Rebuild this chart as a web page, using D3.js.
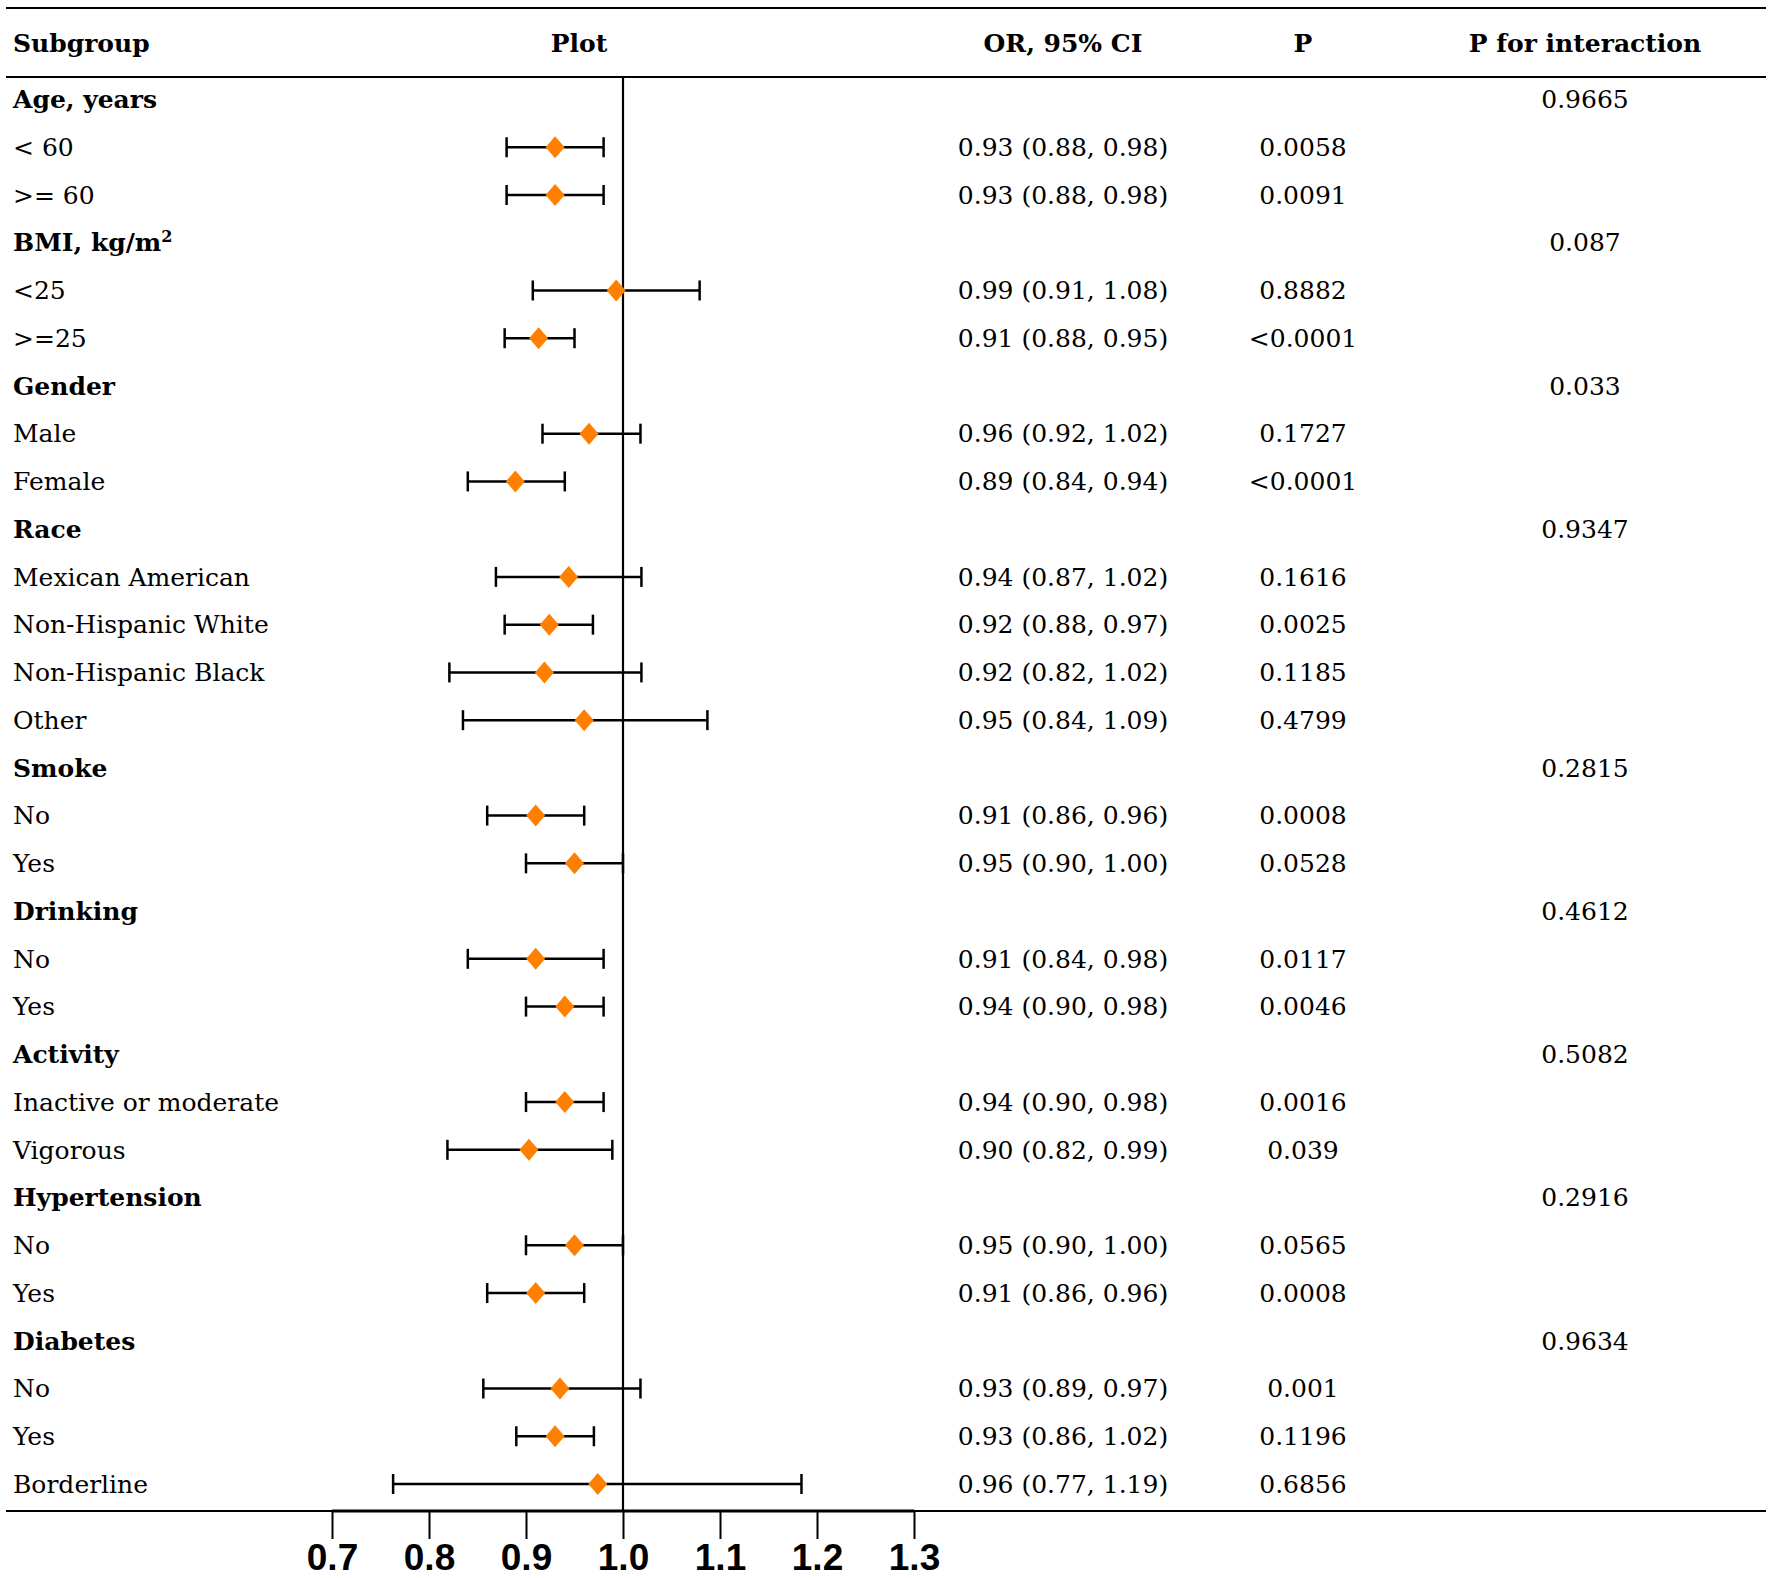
<!DOCTYPE html>
<html>
<head>
<meta charset="utf-8">
<script src="https://cdn.jsdelivr.net/npm/d3@7"></script>
<style>
  html, body { margin: 0; padding: 0; background: #fff; }
  #viz { width: 1772px; height: 1578px; }
</style>
</head>
<body>
<div id="viz"></div>
<script>
// rows of the table, top to bottom
const labels = ["Age, years", "< 60", ">= 60", "BMI, kg/m", "<25", ">=25", "Gender", "Male", "Female",
  "Race", "Mexican American", "Non-Hispanic White", "Non-Hispanic Black", "Other",
  "Smoke", "No", "Yes", "Drinking", "No", "Yes", "Activity", "Inactive or moderate", "Vigorous",
  "Hypertension", "No", "Yes", "Diabetes", "No", "Yes", "Borderline"];
const isHeader = [1,0,0,1,0,0,1,0,0,1,0,0,0,0,1,0,0,1,0,0,1,0,0,1,0,0,1,0,0,0];

const orText = ["", "0.93 (0.88, 0.98)", "0.93 (0.88, 0.98)", "", "0.99 (0.91, 1.08)", "0.91 (0.88, 0.95)",
  "", "0.96 (0.92, 1.02)", "0.89 (0.84, 0.94)", "", "0.94 (0.87, 1.02)", "0.92 (0.88, 0.97)",
  "0.92 (0.82, 1.02)", "0.95 (0.84, 1.09)", "", "0.91 (0.86, 0.96)", "0.95 (0.90, 1.00)",
  "", "0.91 (0.84, 0.98)", "0.94 (0.90, 0.98)", "", "0.94 (0.90, 0.98)", "0.90 (0.82, 0.99)",
  "", "0.95 (0.90, 1.00)", "0.91 (0.86, 0.96)", "", "0.93 (0.89, 0.97)", "0.93 (0.86, 1.02)",
  "0.96 (0.77, 1.19)"];
const pText = ["", "0.0058", "0.0091", "", "0.8882", "<0.0001", "", "0.1727", "<0.0001", "",
  "0.1616", "0.0025", "0.1185", "0.4799", "", "0.0008", "0.0528", "", "0.0117", "0.0046", "",
  "0.0016", "0.039", "", "0.0565", "0.0008", "", "0.001", "0.1196", "0.6856"];
const pInteraction = ["0.9665", "", "", "0.087", "", "", "0.033", "", "", "0.9347", "", "", "", "",
  "0.2815", "", "", "0.4612", "", "", "0.5082", "", "", "0.2916", "", "", "0.9634", "", "", ""];

// plotted estimates as drawn (null for header rows)
const est   = [null, 0.93, 0.93, null, 0.993, 0.913, null, 0.965, 0.889, null, 0.944, 0.924, 0.919, 0.96,
  null, 0.91, 0.95, null, 0.91, 0.94, null, 0.94, 0.903, null, 0.95, 0.91, null, 0.935, 0.93, 0.974];
const lower = [null, 0.88, 0.88, null, 0.907, 0.878, null, 0.917, 0.84, null, 0.869, 0.878, 0.821, 0.835,
  null, 0.86, 0.90, null, 0.84, 0.90, null, 0.90, 0.819, null, 0.90, 0.86, null, 0.856, 0.89, 0.763];
const upper = [null, 0.98, 0.98, null, 1.079, 0.95, null, 1.018, 0.94, null, 1.019, 0.969, 1.019, 1.087,
  null, 0.96, 1.00, null, 0.98, 0.98, null, 0.98, 0.989, null, 1.00, 0.96, null, 1.018, 0.97, 1.184];

const ticks = [0.7, 0.8, 0.9, 1.0, 1.1, 1.2, 1.3];
const headers = ["Subgroup", "Plot", "OR, 95% CI", "P", "P for interaction"];

const W = 1772, H = 1578;
const FONT = "'DejaVu Serif', 'Liberation Serif', serif";
const FS = "25px";
const ORANGE = "#ff8000";

const svg = d3.select("#viz").append("svg")
  .attr("width", W).attr("height", H);

const x = d3.scaleLinear().domain([0.7, 1.3]).range([332, 914]);
const y = d3.scaleLinear().domain([0, labels.length - 1]).range([99.5, 1484]);

const lineTop = 8, lineHead = 77, lineBottom = 1511;
const colOR = 1063, colP = 1303, colInt = 1585, colLabel = 13;

// horizontal rules
[lineTop, lineHead, lineBottom].forEach(yy => {
  svg.append("line").attr("x1", 6).attr("x2", 1766).attr("y1", yy).attr("y2", yy)
    .attr("stroke", "#000").attr("stroke-width", 2);
});

// header row
const headX = [colLabel, 579, colOR, colP, colInt];
svg.append("g").selectAll("text").data(headers).join("text")
  .attr("x", (d, i) => headX[i])
  .attr("y", 43).attr("dy", "0.35em")
  .attr("text-anchor", (d, i) => i === 0 ? "start" : "middle")
  .style("font-family", FONT).style("font-size", FS).style("font-weight", "bold")
  .text(d => d);

// reference line at 1
svg.append("line").attr("x1", x(1)).attr("x2", x(1)).attr("y1", lineHead).attr("y2", lineBottom)
  .attr("stroke", "#000").attr("stroke-width", 2.2);

// axis
const axis = svg.append("g").attr("transform", `translate(0,${lineBottom})`)
  .call(d3.axisBottom(x).tickValues(ticks).tickSize(28).tickFormat(d3.format(".1f")));
axis.select(".domain").attr("stroke-width", 3).attr("d", `M${x(0.7)},0H${x(1.3)}`);
axis.selectAll(".tick line").attr("stroke-width", 2);
axis.selectAll(".tick text").attr("y", 46).attr("dy", "0.35em")
  .style("font-family", "'Liberation Sans Narrow', 'Arial Narrow', 'Liberation Sans', sans-serif")
  .style("font-size", "37px").style("font-weight", "bold").attr("fill", "#000");

// rows
const rows = svg.append("g").selectAll("g").data(labels).join("g")
  .attr("transform", (d, i) => `translate(0,${y(i)})`);

rows.append("text")
  .attr("x", colLabel).attr("dy", "0.35em")
  .style("font-family", FONT).style("font-size", FS)
  .style("font-weight", (d, i) => isHeader[i] ? "bold" : "normal")
  .each(function (d) {
    const t = d3.select(this).text(d);
    if (d === "BMI, kg/m") {
      t.append("tspan").attr("dy", "-0.6em").style("font-size", "16px").text("2");
    }
  });

rows.append("text").attr("x", colOR).attr("dy", "0.35em").attr("text-anchor", "middle")
  .style("font-family", FONT).style("font-size", FS).text((d, i) => orText[i]);
rows.append("text").attr("x", colP).attr("dy", "0.35em").attr("text-anchor", "middle")
  .style("font-family", FONT).style("font-size", FS).text((d, i) => pText[i]);
rows.append("text").attr("x", colInt).attr("dy", "0.35em").attr("text-anchor", "middle")
  .style("font-family", FONT).style("font-size", FS).text((d, i) => pInteraction[i]);

// error bars and diamonds
const idx = d3.range(labels.length).filter(i => est[i] != null);
const bars = svg.append("g").selectAll("g").data(idx).join("g")
  .attr("transform", i => `translate(0,${y(i)})`);

bars.append("line").attr("x1", i => x(lower[i])).attr("x2", i => x(upper[i]))
  .attr("stroke", "#000").attr("stroke-width", 2.5);
bars.append("line").attr("x1", i => x(lower[i])).attr("x2", i => x(lower[i]))
  .attr("y1", -10).attr("y2", 10).attr("stroke", "#000").attr("stroke-width", 2.5);
bars.append("line").attr("x1", i => x(upper[i])).attr("x2", i => x(upper[i]))
  .attr("y1", -10).attr("y2", 10).attr("stroke", "#000").attr("stroke-width", 2.5);
bars.append("path")
  .attr("d", i => { const cx = x(est[i]); return `M${cx},-11L${cx + 9.5},0L${cx},11L${cx - 9.5},0Z`; })
  .attr("fill", ORANGE);
</script>
</body>
</html>
